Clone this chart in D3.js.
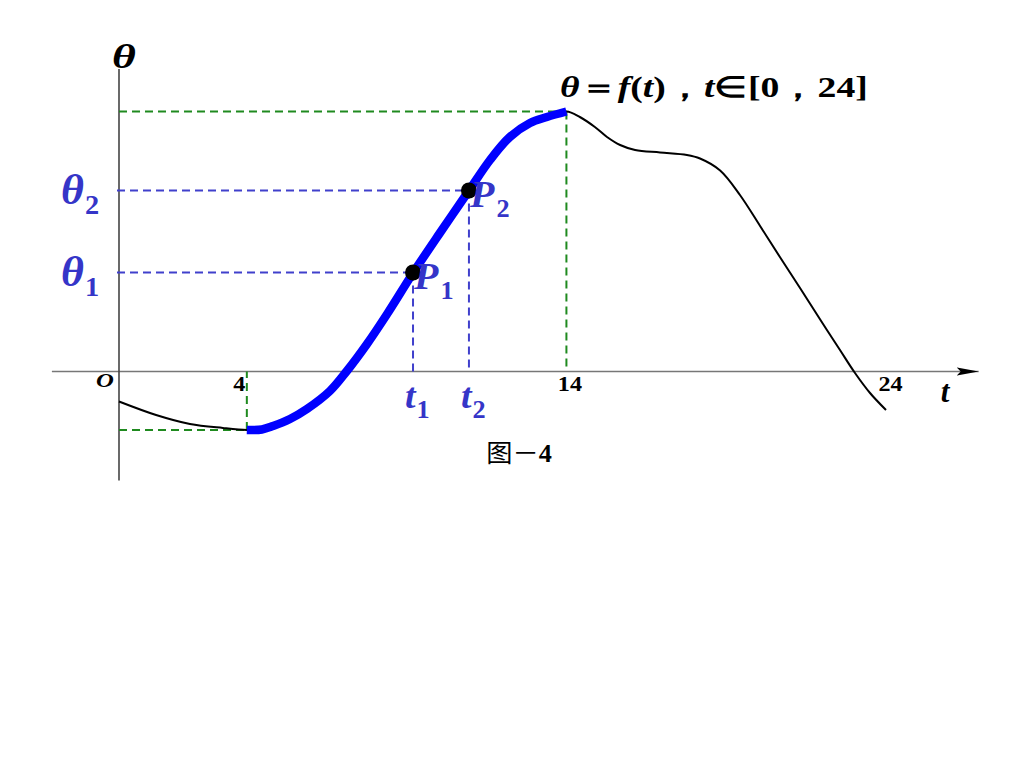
<!DOCTYPE html>
<html><head><meta charset="utf-8">
<script src="https://cdn.jsdelivr.net/npm/d3@7/dist/d3.min.js"></script>
<style>
html,body{margin:0;padding:0;background:#fff;}
svg{display:block;}
</style>
</head><body>
<script>
// ---- data ----
const tValues     = [0, 1.16, 2.22, 3.25, 4.0, 4.47, 4.82, 5.35, 5.88, 6.6, 7.13, 7.76, 8.39, 9.2, 10.04, 10.92, 11.61, 12.23, 12.86, 13.39, 14.0,
                     14.42, 14.89, 15.27, 15.68, 16.15, 16.93, 17.77, 18.18, 18.81, 19.43, 20.06, 20.68, 21.31, 21.93, 22.56, 23.03, 23.5, 24];
const thetaValues = [-3.0, -4.35, -5.25, -5.65, -5.85, -5.8, -5.45, -4.75, -3.75, -1.95, 0.05, 2.75, 5.75, 9.85, 13.85, 17.95, 21.15, 23.45, 24.85, 25.45, 26.0,
                     25.45, 24.45, 23.45, 22.65, 22.15, 21.9, 21.65, 21.3, 20.1, 17.65, 14.55, 11.45, 8.35, 5.25, 2.15, -0.15, -2.15, -3.85];
const highlightRange = [4, 14];          // increasing part drawn thick
const tickLabels  = [4, 14, 24];
const minPoint    = [4, -5.85];
const maxPoint    = [14, 26.0];
const markedT     = [9.2, 10.95];        // t1, t2
const markedTheta = [9.9, 18.1];         // θ1, θ2
const markedNames = ["1", "2"];
const tAxisExtent     = [-2.1, 26.9];
const thetaAxisExtent = [-10.9, 30.25];

// ---- layout ----
const W = 1024, H = 768;
const x = d3.scaleLinear().domain([0, 24]).range([119, 886]);
const y = d3.scaleLinear().domain([0, 26]).range([371.5, 111.5]);

const svg = d3.select("body").append("svg").attr("width", W).attr("height", H);
const serif = "'Liberation Serif','Times New Roman',serif";
const labelBlue = "#3535c8";
const dashBlue = "#4040cc";
const green = "#1f8a1f";

svg.append("defs").append("marker")
  .attr("id", "arrow").attr("viewBox", "0 0 22 10").attr("refX", 22).attr("refY", 5)
  .attr("markerWidth", 22).attr("markerHeight", 10).attr("markerUnits", "userSpaceOnUse")
  .attr("orient", "auto")
  .append("path").attr("d", "M0,1 L22,5 L0,9 L4,5 Z").attr("fill", "#000");

// axes lines
svg.append("line")
  .attr("x1", x(tAxisExtent[0])).attr("x2", x(tAxisExtent[1]))
  .attr("y1", y(0)).attr("y2", y(0))
  .attr("stroke", "#777").attr("stroke-width", 1.6).attr("marker-end", "url(#arrow)");
svg.append("line")
  .attr("x1", x(0)).attr("x2", x(0))
  .attr("y1", y(thetaAxisExtent[0])).attr("y2", y(thetaAxisExtent[1]))
  .attr("stroke", "#444").attr("stroke-width", 1.6);

// tick labels via d3 axis (text widened like the reference)
const axisG = svg.append("g").attr("transform", `translate(0,${y(0)})`)
  .call(d3.axisBottom(x).tickValues(tickLabels).tickSize(0).tickPadding(0).tickFormat(d3.format("d")));
axisG.select(".domain").remove();
axisG.selectAll(".tick text")
  .attr("font-family", serif).attr("font-weight", "bold").attr("font-size", 21).attr("fill", "#000")
  .attr("dy", null).attr("y", 20)
  .attr("transform", d => `translate(${d === 4 ? -8 : (d === 14 ? 3 : 4)},0) scale(1.15,1)`);

// dashed guide lines
const dashed = (x1, y1, x2, y2, color) => svg.append("line")
  .attr("x1", x1).attr("y1", y1).attr("x2", x2).attr("y2", y2)
  .attr("stroke", color).attr("stroke-width", 2).attr("stroke-dasharray", "8,5");
dashed(x(0), y(maxPoint[1]), x(maxPoint[0]), y(maxPoint[1]), green);
dashed(x(maxPoint[0]), y(maxPoint[1]), x(maxPoint[0]), y(0), green);
dashed(x(0), y(minPoint[1]), x(minPoint[0]), y(minPoint[1]), green);
dashed(x(minPoint[0]), y(minPoint[1]), x(minPoint[0]), y(0), green);

markedT.forEach((t, i) => {
  dashed(x(0) - 2, y(markedTheta[i]), x(t), y(markedTheta[i]), dashBlue);
  dashed(x(t), y(markedTheta[i]), x(t), y(0), dashBlue);
});

// curve
const pts = tValues.map((t, i) => [t, thetaValues[i]]);
const line = d3.line().x(d => x(d[0])).y(d => y(d[1])).curve(d3.curveCatmullRom.alpha(0.5));
svg.append("path").datum(pts).attr("d", line)
  .attr("fill", "none").attr("stroke", "#000").attr("stroke-width", 2);
const hiPts = pts.filter(d => d[0] >= highlightRange[0] && d[0] <= highlightRange[1]);
svg.append("path").datum(hiPts).attr("d", line)
  .attr("fill", "none").attr("stroke", "#0000ff").attr("stroke-width", 8.5).attr("stroke-linecap", "butt");

// points
svg.selectAll("circle.pt").data(markedT).enter().append("circle")
  .attr("cx", d => x(d)).attr("cy", (d, i) => y(markedTheta[i])).attr("r", 8).attr("fill", "#000");

// text helper: a text placed at (px,py), widened by sx
function wideText(px, py, sx, anchor) {
  return svg.append("g").attr("transform", `translate(${px},${py}) scale(${sx},1)`)
    .append("text").attr("x", 0).attr("y", 0).attr("text-anchor", anchor || "start")
    .attr("font-family", serif).attr("font-weight", "bold");
}
function subLabel(px, py, main, sub, size, subSize, dx, dy, color, sx) {
  const t = wideText(px, py, sx || 1).attr("fill", color);
  t.append("tspan").attr("font-style", "italic").attr("font-size", size).text(main);
  t.append("tspan").attr("font-size", subSize).attr("dx", dx).attr("dy", dy).text(sub);
}

// θ1, θ2 labels on the θ-axis
markedTheta.forEach((v, i) => {
  subLabel(61, y(v) + 13, "θ", markedNames[i], 42, 27, 1, 10, labelBlue, 1.05);
});
// P1, P2
markedT.forEach((t, i) => {
  subLabel(x(t) + 1, y(markedTheta[i]) + 16, "P", markedNames[i], 38, 25, 2, 10, labelBlue, 1.05);
});
// t1, t2
markedT.forEach((t, i) => {
  subLabel(x(t) - 8, y(0) + 36, "t", markedNames[i], 36, 25, 1, 10, labelBlue, 1.05);
});

// axis names
wideText(x(0) + 5, 68, 1.35, "middle").attr("font-style", "italic").attr("font-size", 34).text("θ");
wideText(945, 402, 1.0, "middle").attr("font-style", "italic").attr("font-size", 31).text("t");
wideText(105, 387, 1.3, "middle").attr("font-style", "italic").attr("font-size", 19).text("O");

// formula
const f = wideText(560, 97, 1.3).attr("font-size", 29).attr("fill", "#000");
[["θ", true], ["＝", false], ["f", true], ["(", false], ["t", true], [")，", false], ["t", true], ["∈[0，24]", false]]
  .forEach(([s, it]) => f.append("tspan").attr("font-style", it ? "italic" : "normal").text(s));

// caption
const cap = wideText(519, 462, 1.05, "middle").attr("font-size", 25).attr("font-weight", "normal").attr("fill", "#000");
cap.append("tspan").attr("font-family", "'Noto Sans CJK SC'").text("图－");
cap.append("tspan").attr("font-weight", "bold").text("4");
</script>
</body></html>
